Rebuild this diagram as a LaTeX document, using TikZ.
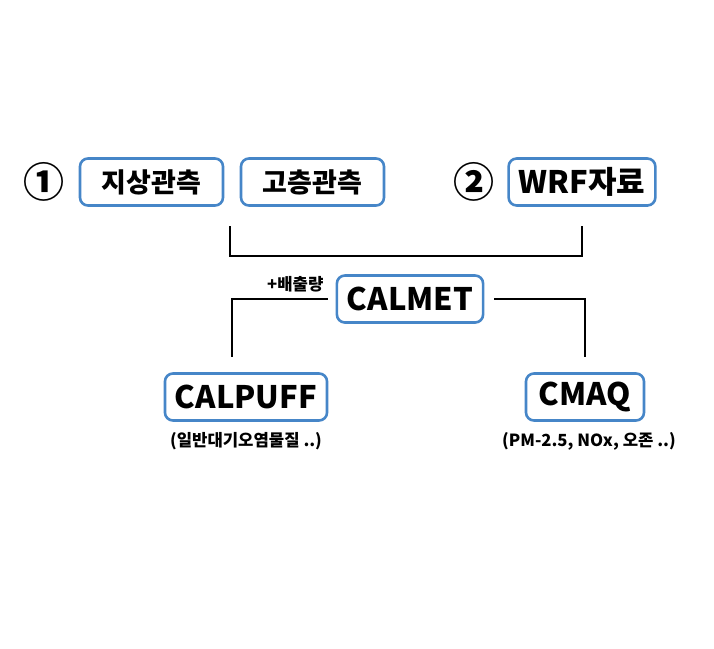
\documentclass[tikz,border=0pt]{standalone}
\usepackage{fontspec}
\setmainfont{Noto Sans CJK KR}
\definecolor{boxblue}{RGB}{70,134,200}
\tikzset{
    model/.style={draw=boxblue, line width=2.6pt, rounded corners=8pt, minimum height=47pt,
        inner xsep=10pt, font=\bfseries\fontsize{31}{31}\selectfont},
    datasrc/.style={model, font=\bfseries\fontsize{27}{27}\selectfont},
    note/.style={font=\bfseries\fontsize{16.7}{16.7}\selectfont},
    num/.style={font=\bfseries\fontsize{41}{41}\selectfont, inner sep=0pt},
    link/.style={line width=2.6pt}
}
\begin{document}
\begin{tikzpicture}[x=1pt, y=-1pt]
    \useasboundingbox (0, 0) rectangle (714, 648);
    % input data
    \node [num] (one) at (44, 182) {①};
    \node [datasrc, minimum width=143pt] (surface) at (151.5, 182) {지상관측};
    \node [datasrc, minimum width=143pt] (upper) at (312.5, 182) {고층관측};
    \node [num] (two) at (474, 182) {②};
    \node [model, minimum width=144pt] (wrf) at (582, 182) {WRF자료};
    % models
    \node [model, minimum width=145pt] (calmet) at (410, 299) {CALMET};
    \node [model, minimum width=158pt] (calpuff) at (246, 397) {CALPUFF};
    \node [model, minimum width=118pt] (cmaq) at (585, 397) {CMAQ};
    \node [note, anchor=east] (emis) at (327, 284) {+배출량};
    \node [note] (puffnote) at (246, 441) {(일반대기오염물질 ..)};
    \node [note] (cmaqnote) at (589, 441) {(PM-2.5, NOx, 오존 ..)};
    % connectors
    \coordinate (obsend) at (230, 226);
    \coordinate (wrfend) at (582, 226);
    \coordinate (puffend) at (232, 357);
    \coordinate (cmaqend) at (585, 357);
    \draw [link] (obsend) -- ++(0, 30) -| (wrfend);
    \draw [link] ([xshift=-8pt]calmet.west) -| (puffend);
    \draw [link] ([xshift=10pt]calmet.east) -| (cmaqend);
\end{tikzpicture}
\end{document}
